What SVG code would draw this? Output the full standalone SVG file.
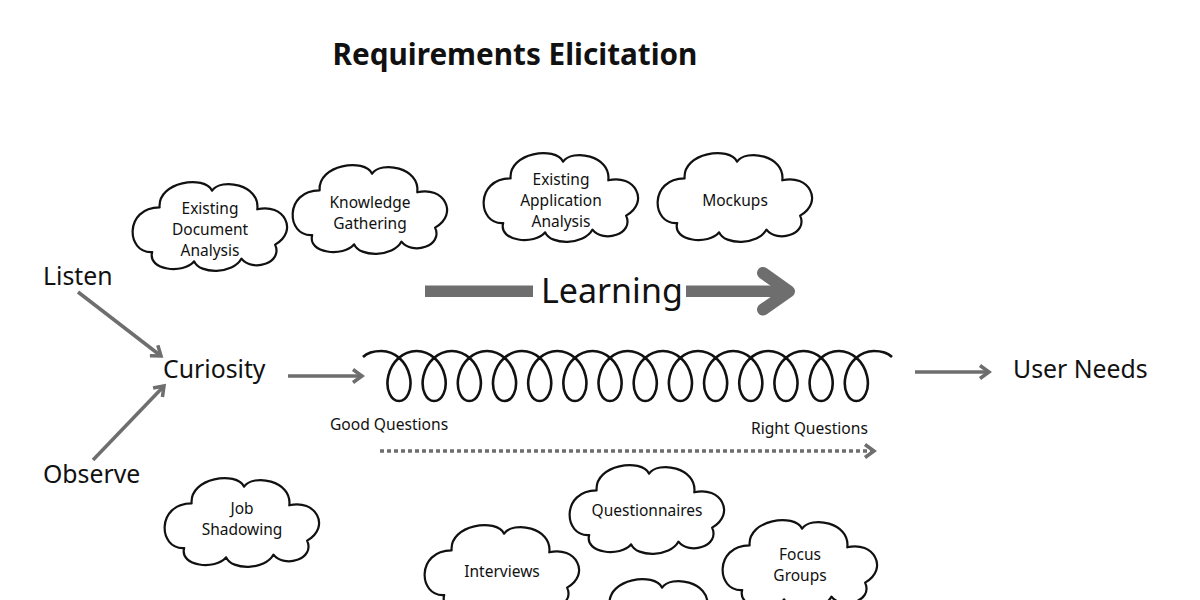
<svg xmlns="http://www.w3.org/2000/svg" xmlns:xlink="http://www.w3.org/1999/xlink" width="1200" height="600" viewBox="0 0 1200 600">
  <style>
    text { font-family: "Noto Sans", "Open Sans", "Liberation Sans", sans-serif; fill: #111; }
    .title { font-size: 29.7px; font-weight: bold; }
    .big { font-size: 24.8px; }
    .learn { font-size: 34px; }
    .cl { font-size: 15.5px; text-anchor: middle; }
    .small { font-size: 15.6px; }
    .cloud { fill: #fff; stroke: #111; stroke-width: 2.2; stroke-linejoin: round; }
    .conn { stroke: #6e6e6e; stroke-width: 3.5; fill: none; }
  </style>
  <defs>
    <path id="cloudShape" class="cloud" d="M -50.4,-18.6 C -52.5,-44.6 -5.3,-51.2 2.1,-35.3 C 10.5,-48.4 50.4,-41.9 47.3,-16.7 C 73.5,-23.3 89.3,4.7 65.1,18.6 C 73.5,37.2 42,46.5 31.5,32.6 C 23.1,48.4 -10.5,48.4 -15.8,35.3 C -26.3,48.4 -63,44.6 -57.8,26 C -84,27.9 -86.1,-18.6 -50.4,-18.6 Z"/>
    <marker id="chev" markerUnits="userSpaceOnUse" markerWidth="16" markerHeight="16" viewBox="0 0 16 16" refX="13" refY="8" orient="auto">
      <path d="M4,1.5 L13,8 L4,14.5" fill="none" stroke="#6e6e6e" stroke-width="3.5" stroke-linejoin="miter"/>
    </marker>
  </defs>
  <rect width="1200" height="600" fill="#fff"/>

  <g id="title"><text class="title" x="515" y="65" text-anchor="middle">Requirements Elicitation</text></g>

  <g id="connectors">
    <line class="conn" x1="78" y1="292" x2="161" y2="356" marker-end="url(#chev)"/>
    <line class="conn" x1="93" y1="460" x2="164" y2="386" marker-end="url(#chev)"/>
    <line class="conn" x1="288" y1="376" x2="362" y2="376" marker-end="url(#chev)"/>
    <line class="conn" x1="915" y1="372" x2="989" y2="372" marker-end="url(#chev)"/>
    <line x1="380" y1="451" x2="874" y2="451" stroke="#6e6e6e" stroke-width="3.5" stroke-dasharray="4 3" marker-end="url(#chev)"/>
  </g>

  <g id="learning">
    <rect x="425" y="285.5" width="108" height="11.5" fill="#6e6e6e"/>
    <rect x="686" y="285.5" width="96" height="11.5" fill="#6e6e6e"/>
    <polyline points="763,273 789,291.3 763,309.5" fill="none" stroke="#6e6e6e" stroke-width="12" stroke-linecap="round" stroke-linejoin="round"/>
    <text class="learn" x="541" y="303">Learning</text>
  </g>

  <g id="spring">
    <path fill="none" stroke="#111" stroke-width="2.6" d="M363,357 C368,352 374,351 381.4,351
      c6.57,0 13.11,2.69 18.19,7.32 c5.08,4.63 8.63,11.13 10.10,17.68 c1.47,6.55 0.83,13.05 -1.31,17.68 c-2.14,4.63 -5.75,7.32 -9.39,7.32 c-3.64,0 -7.25,-2.69 -9.39,-7.32 c-2.14,-4.63 -2.78,-11.13 -1.31,-17.68 c1.47,-6.55 5.02,-13.05 10.10,-17.68 c5.08,-4.63 11.62,-7.32 18.19,-7.32
      c6.57,0 13.11,2.69 18.19,7.32 c5.08,4.63 8.63,11.13 10.10,17.68 c1.47,6.55 0.83,13.05 -1.31,17.68 c-2.14,4.63 -5.75,7.32 -9.39,7.32 c-3.64,0 -7.25,-2.69 -9.39,-7.32 c-2.14,-4.63 -2.78,-11.13 -1.31,-17.68 c1.47,-6.55 5.02,-13.05 10.10,-17.68 c5.08,-4.63 11.62,-7.32 18.19,-7.32
      c6.57,0 13.11,2.69 18.19,7.32 c5.08,4.63 8.63,11.13 10.10,17.68 c1.47,6.55 0.83,13.05 -1.31,17.68 c-2.14,4.63 -5.75,7.32 -9.39,7.32 c-3.64,0 -7.25,-2.69 -9.39,-7.32 c-2.14,-4.63 -2.78,-11.13 -1.31,-17.68 c1.47,-6.55 5.02,-13.05 10.10,-17.68 c5.08,-4.63 11.62,-7.32 18.19,-7.32
      c6.57,0 13.11,2.69 18.19,7.32 c5.08,4.63 8.63,11.13 10.10,17.68 c1.47,6.55 0.83,13.05 -1.31,17.68 c-2.14,4.63 -5.75,7.32 -9.39,7.32 c-3.64,0 -7.25,-2.69 -9.39,-7.32 c-2.14,-4.63 -2.78,-11.13 -1.31,-17.68 c1.47,-6.55 5.02,-13.05 10.10,-17.68 c5.08,-4.63 11.62,-7.32 18.19,-7.32
      c6.57,0 13.11,2.69 18.19,7.32 c5.08,4.63 8.63,11.13 10.10,17.68 c1.47,6.55 0.83,13.05 -1.31,17.68 c-2.14,4.63 -5.75,7.32 -9.39,7.32 c-3.64,0 -7.25,-2.69 -9.39,-7.32 c-2.14,-4.63 -2.78,-11.13 -1.31,-17.68 c1.47,-6.55 5.02,-13.05 10.10,-17.68 c5.08,-4.63 11.62,-7.32 18.19,-7.32
      c6.57,0 13.11,2.69 18.19,7.32 c5.08,4.63 8.63,11.13 10.10,17.68 c1.47,6.55 0.83,13.05 -1.31,17.68 c-2.14,4.63 -5.75,7.32 -9.39,7.32 c-3.64,0 -7.25,-2.69 -9.39,-7.32 c-2.14,-4.63 -2.78,-11.13 -1.31,-17.68 c1.47,-6.55 5.02,-13.05 10.10,-17.68 c5.08,-4.63 11.62,-7.32 18.19,-7.32
      c6.57,0 13.11,2.69 18.19,7.32 c5.08,4.63 8.63,11.13 10.10,17.68 c1.47,6.55 0.83,13.05 -1.31,17.68 c-2.14,4.63 -5.75,7.32 -9.39,7.32 c-3.64,0 -7.25,-2.69 -9.39,-7.32 c-2.14,-4.63 -2.78,-11.13 -1.31,-17.68 c1.47,-6.55 5.02,-13.05 10.10,-17.68 c5.08,-4.63 11.62,-7.32 18.19,-7.32
      c6.57,0 13.11,2.69 18.19,7.32 c5.08,4.63 8.63,11.13 10.10,17.68 c1.47,6.55 0.83,13.05 -1.31,17.68 c-2.14,4.63 -5.75,7.32 -9.39,7.32 c-3.64,0 -7.25,-2.69 -9.39,-7.32 c-2.14,-4.63 -2.78,-11.13 -1.31,-17.68 c1.47,-6.55 5.02,-13.05 10.10,-17.68 c5.08,-4.63 11.62,-7.32 18.19,-7.32
      c6.57,0 13.11,2.69 18.19,7.32 c5.08,4.63 8.63,11.13 10.10,17.68 c1.47,6.55 0.83,13.05 -1.31,17.68 c-2.14,4.63 -5.75,7.32 -9.39,7.32 c-3.64,0 -7.25,-2.69 -9.39,-7.32 c-2.14,-4.63 -2.78,-11.13 -1.31,-17.68 c1.47,-6.55 5.02,-13.05 10.10,-17.68 c5.08,-4.63 11.62,-7.32 18.19,-7.32
      c6.57,0 13.11,2.69 18.19,7.32 c5.08,4.63 8.63,11.13 10.10,17.68 c1.47,6.55 0.83,13.05 -1.31,17.68 c-2.14,4.63 -5.75,7.32 -9.39,7.32 c-3.64,0 -7.25,-2.69 -9.39,-7.32 c-2.14,-4.63 -2.78,-11.13 -1.31,-17.68 c1.47,-6.55 5.02,-13.05 10.10,-17.68 c5.08,-4.63 11.62,-7.32 18.19,-7.32
      c6.57,0 13.11,2.69 18.19,7.32 c5.08,4.63 8.63,11.13 10.10,17.68 c1.47,6.55 0.83,13.05 -1.31,17.68 c-2.14,4.63 -5.75,7.32 -9.39,7.32 c-3.64,0 -7.25,-2.69 -9.39,-7.32 c-2.14,-4.63 -2.78,-11.13 -1.31,-17.68 c1.47,-6.55 5.02,-13.05 10.10,-17.68 c5.08,-4.63 11.62,-7.32 18.19,-7.32
      c6.57,0 13.11,2.69 18.19,7.32 c5.08,4.63 8.63,11.13 10.10,17.68 c1.47,6.55 0.83,13.05 -1.31,17.68 c-2.14,4.63 -5.75,7.32 -9.39,7.32 c-3.64,0 -7.25,-2.69 -9.39,-7.32 c-2.14,-4.63 -2.78,-11.13 -1.31,-17.68 c1.47,-6.55 5.02,-13.05 10.10,-17.68 c5.08,-4.63 11.62,-7.32 18.19,-7.32
      c6.57,0 13.11,2.69 18.19,7.32 c5.08,4.63 8.63,11.13 10.10,17.68 c1.47,6.55 0.83,13.05 -1.31,17.68 c-2.14,4.63 -5.75,7.32 -9.39,7.32 c-3.64,0 -7.25,-2.69 -9.39,-7.32 c-2.14,-4.63 -2.78,-11.13 -1.31,-17.68 c1.47,-6.55 5.02,-13.05 10.10,-17.68 c5.08,-4.63 11.62,-7.32 18.19,-7.32
      c6.57,0 13.11,2.69 18.19,7.32 c5.08,4.63 8.63,11.13 10.10,17.68 c1.47,6.55 0.83,13.05 -1.31,17.68 c-2.14,4.63 -5.75,7.32 -9.39,7.32 c-3.64,0 -7.25,-2.69 -9.39,-7.32 c-2.14,-4.63 -2.78,-11.13 -1.31,-17.68 c1.47,-6.55 5.02,-13.05 10.10,-17.68 c5.08,-4.63 11.62,-7.32 18.19,-7.32
      C881,351 887,352 892,357"/>
  </g>

  <g id="listen"><text class="big" x="43" y="285">Listen</text></g>
  <g id="observe"><text class="big" x="43" y="483">Observe</text></g>
  <g id="curiosity"><text class="big" x="163" y="378">Curiosity</text></g>
  <g id="user-needs"><text class="big" x="1013" y="378">User Needs</text></g>
  <g id="good-questions"><text class="small" x="330" y="430">Good Questions</text></g>
  <g id="right-questions"><text class="small" x="751" y="434">Right Questions</text></g>

  <g id="cloud-existing-document">
    <use href="#cloudShape" transform="translate(210,226)"/>
    <text class="cl" x="210" y="213.5">Existing</text>
    <text class="cl" x="210" y="234.5">Document</text>
    <text class="cl" x="210" y="255.5">Analysis</text>
  </g>
  <g id="cloud-knowledge">
    <use href="#cloudShape" transform="translate(370,209)"/>
    <text class="cl" x="370" y="208">Knowledge</text>
    <text class="cl" x="370" y="229">Gathering</text>
  </g>
  <g id="cloud-existing-application">
    <use href="#cloudShape" transform="translate(561,197)"/>
    <text class="cl" x="561" y="185">Existing</text>
    <text class="cl" x="561" y="206">Application</text>
    <text class="cl" x="561" y="227">Analysis</text>
  </g>
  <g id="cloud-mockups">
    <use href="#cloudShape" transform="translate(735,197)"/>
    <text class="cl" x="735" y="206">Mockups</text>
  </g>
  <g id="cloud-job-shadowing">
    <use href="#cloudShape" transform="translate(242,522)"/>
    <text class="cl" x="242" y="513.5">Job</text>
    <text class="cl" x="242" y="535">Shadowing</text>
  </g>
  <g id="cloud-questionnaires">
    <use href="#cloudShape" transform="translate(647,509)"/>
    <text class="cl" x="647" y="516">Questionnaires</text>
  </g>
  <g id="cloud-interviews">
    <use href="#cloudShape" transform="translate(502,569)"/>
    <text class="cl" x="502" y="577">Interviews</text>
  </g>
  <g id="cloud-focus-groups">
    <use href="#cloudShape" transform="translate(800,564)"/>
    <text class="cl" x="800" y="560">Focus</text>
    <text class="cl" x="800" y="581">Groups</text>
  </g>
  <g id="cloud-bottom">
    <use href="#cloudShape" transform="translate(660,623)"/>
  </g>
</svg>
